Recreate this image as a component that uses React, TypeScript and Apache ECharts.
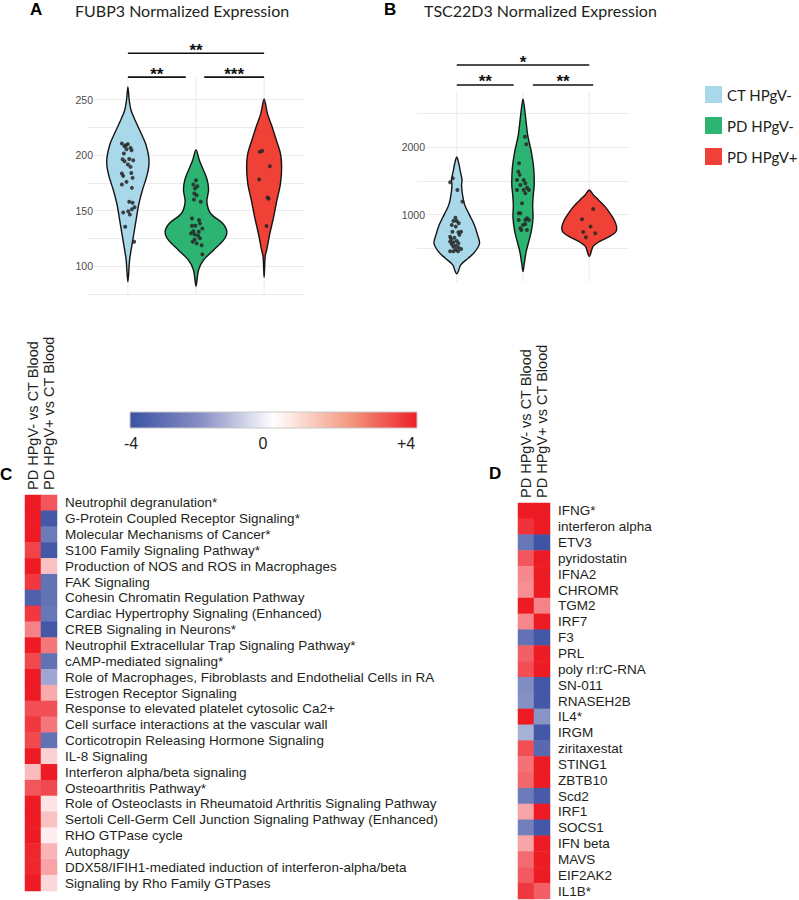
import React, { useEffect, useRef } from 'react';
import * as echarts from 'echarts';

// ---------- Violin panels (A: FUBP3, B: TSC22D3) ----------
const groups = ['CT HPgV-', 'PD HPgV-', 'PD HPgV+'];
const groupColors = ['#a9d8ea', '#2db473', '#ef4136'];

// Violin outlines: [expression value, half width in category units]
const fubp3CT = [[261.4, 0], [249.5, 0.02], [240.5, 0.047], [231.5, 0.106], [219.5, 0.196], [210.5, 0.26], [198.5, 0.306], [189.5, 0.306], [180.5, 0.275], [168.5, 0.213], [156.5, 0.162], [144.5, 0.128], [129.5, 0.088], [114.5, 0.047], [105.5, 0.025], [86, 0]];
const fubp3PDneg = [[205, 0], [195.5, 0.049], [186.5, 0.11], [177.5, 0.165], [168.5, 0.184], [158, 0.16], [147.5, 0.215], [138.5, 0.393], [131, 0.453], [123.5, 0.404], [114.5, 0.257], [105.5, 0.11], [96.5, 0.037], [82, 0]];
const fubp3PDpos = [[250.6, 0], [237.5, 0.049], [225.5, 0.118], [213.5, 0.18], [201.5, 0.24], [189.5, 0.257], [174.5, 0.24], [159.5, 0.188], [144.5, 0.14], [129.5, 0.084], [114.5, 0.037], [108.5, 0.015], [90, 0]];

// Individual samples: [jitter in category units, expression value]
const fubp3CTPts = [[-0.088, 210.5], [-0.029, 209], [0, 210], [0.039, 206.6], [0.054, 204.5], [-0.02, 205.4], [-0.059, 201.5], [-0.078, 196.4], [-0.049, 194.6], [0.078, 195.5], [0, 191.6], [0.039, 189.5], [-0.088, 183.5], [-0.069, 181.4], [0.069, 179.6], [-0.02, 176], [-0.088, 173.6], [0.059, 170.6], [0.02, 158], [0.069, 157.1], [0.098, 153.2], [0.059, 151.4], [0.005, 149.6], [-0.069, 148.4], [0.029, 146.7], [-0.039, 135.5], [0.093, 122], [-0.05, 208], [0.02, 196.5], [0.05, 184]];
const fubp3PDnegPts = [[0, 177.5], [-0.039, 173.6], [-0.015, 170], [-0.025, 165.6], [0.01, 164], [-0.03, 160.2], [0.069, 158], [-0.059, 143], [0.044, 141.6], [0.059, 138.6], [-0.059, 136.4], [-0.01, 136.4], [0.093, 134], [-0.074, 129.6], [-0.02, 128.7], [0.03, 127.5], [0.059, 125.1], [-0.049, 122], [0.01, 120.6], [0.083, 119], [0.093, 110.7], [0.02, 172], [-0.04, 131.5], [0.04, 131], [-0.02, 124]];
const fubp3PDposPts = [[-0.063, 203], [-0.029, 203.9], [0.084, 190.1], [-0.073, 178.1], [0.05, 162], [0.065, 160.7], [0.035, 136.2]];

// Significance brackets: [from category, to category, height], and their labels
const fubp3Sig = [[0, 2, 291.8], [0, 0.85, 270.3], [1.12, 2, 270.3]];
const fubp3SigLabels = ['**', '**', '***'];

const tscCT = [[1855, 0], [1740, 0.035], [1660, 0.05], [1515, 0.08], [1440, 0.072], [1290, 0.088], [1145, 0.12], [1000, 0.19], [850, 0.264], [700, 0.314], [575, 0.344], [450, 0.276], [355, 0.176], [255, 0.06], [155, 0.023], [120, 0]];
const tscPDneg = [[2717, 0], [2480, 0.035], [2180, 0.071], [1935, 0.125], [1690, 0.161], [1440, 0.169], [1290, 0.155], [1145, 0.146], [950, 0.151], [750, 0.125], [600, 0.087], [450, 0.048], [300, 0.023], [154, 0]];
const tscPDpos = [[1366, 0], [1292, 0.063], [1218, 0.139], [1119, 0.238], [1020, 0.314], [921, 0.377], [822, 0.412], [748, 0.403], [674, 0.302], [599, 0.151], [525, 0.056], [377, 0]];

const tscCTPts = [[-0.1, 1481], [-0.06, 1540], [0.01, 1366], [0.085, 1193], [-0.02, 955], [-0.05, 906], [0, 906], [0.03, 872], [-0.075, 847], [-0.015, 822], [-0.065, 747], [0.065, 747], [0.025, 738], [-0.1, 673], [-0.035, 658], [-0.085, 639], [0, 609], [-0.1, 599], [-0.05, 589], [0.025, 574], [-0.075, 559], [-0.015, 539], [-0.05, 524], [0.025, 514], [0.065, 490], [-0.1, 455], [-0.015, 480], [-0.05, 455], [0.02, 455], [0.04, 700]];
const tscPDnegPts = [[0.03, 2157], [0.05, 2044], [-0.06, 1763], [-0.07, 1638], [-0.05, 1590], [-0.09, 1515], [0.01, 1515], [0.035, 1466], [-0.04, 1441], [-0.09, 1366], [0.01, 1366], [0.09, 1366], [0.035, 1317], [0.06, 1400], [-0.015, 1169], [-0.065, 1021], [-0.04, 1021], [0.06, 946], [0.035, 921], [0.09, 921], [-0.065, 921], [0, 847], [-0.04, 798], [-0.025, 773], [0.035, 860], [0.06, 773]];
const tscPDposPts = [[0.06, 1084], [-0.11, 932], [0.02, 822], [-0.09, 743], [0.09, 724], [-0.05, 664]];

const tscSig = [[0, 2, 3220], [0, 0.86, 2925], [1.15, 2.06, 2925]];
const tscSigLabels = ['*', '**', '**'];

// ---------- Heatmaps (C: pathways, D: upstream regulators) ----------
const contrasts = ['PD HPgV- vs CT Blood', 'PD HPgV+ vs CT Blood'];

const pathways = [
  'Neutrophil degranulation*',
  'G-Protein Coupled Receptor Signaling*',
  'Molecular Mechanisms of Cancer*',
  'S100 Family Signaling Pathway*',
  'Production of NOS and ROS in Macrophages',
  'FAK Signaling',
  'Cohesin Chromatin Regulation Pathway',
  'Cardiac Hypertrophy Signaling (Enhanced)',
  'CREB Signaling in Neurons*',
  'Neutrophil Extracellular Trap Signaling Pathway*',
  'cAMP-mediated signaling*',
  'Role of Macrophages, Fibroblasts and Endothelial Cells in RA',
  'Estrogen Receptor Signaling',
  'Response to elevated platelet cytosolic Ca2+',
  'Cell surface interactions at the vascular wall',
  'Corticotropin Releasing Hormone Signaling',
  'IL-8 Signaling',
  'Interferon alpha/beta signaling',
  'Osteoarthritis Pathway*',
  'Role of Osteoclasts in Rheumatoid Arthritis Signaling Pathway',
  'Sertoli Cell-Germ Cell Junction Signaling Pathway (Enhanced)',
  'RHO GTPase cycle',
  'Autophagy',
  'DDX58/IFIH1-mediated induction of interferon-alpha/beta',
  'Signaling by Rho Family GTPases',
];
const pathwayPDneg = [4, 4, 4, 3.3, 4, 3.5, -3.6, 3.5, 2.2, 4, 3.2, 4, 4, 3.1, 3.5, 3.2, 4, 1.2, 3, 4, 4, 4, 3.8, 3.8, 4];
const pathwayPDpos = [3, -3.8, -3, -3.8, 1.1, -3.2, -3.2, -3.1, -3.8, 2.4, -3.2, -2, 1.5, 3.1, 2.4, -3.2, 0.8, 4, 3.2, 0.5, 1.1, 0.3, 1.3, 1.6, 0.7];

const regulators = [
  'IFNG*', 'interferon alpha', 'ETV3', 'pyridostatin', 'IFNA2', 'CHROMR', 'TGM2', 'IRF7', 'F3', 'PRL',
  'poly rI:rC-RNA', 'SN-011', 'RNASEH2B', 'IL4*', 'IRGM', 'ziritaxestat', 'STING1', 'ZBTB10', 'Scd2',
  'IRF1', 'SOCS1', 'IFN beta', 'MAVS', 'EIF2AK2', 'IL1B*',
];
const regulatorPDneg = [4, 3.6, -3.1, 3, 2.1, 2, 4, 2.1, -3.2, 2.8, 3.1, -2.6, -2.5, 4, -1.8, 3.1, 2.5, 2.7, -3, 1.6, -2.9, 1.6, 2.6, 2.9, 3.5];
const regulatorPDpos = [4, 4, -3.9, 4, 4, 4, 2.2, 4, -3.8, 4, 4, -3.8, -3.8, -2.4, -3.8, -3.4, 4, 4, -3.7, 4, -3.8, 4, 4, 4, 2.8];

const zScaleTicks = ['-4', '0', '+4'];

const SANS = '"Liberation Sans", Arial, sans-serif';
const HUMANIST = 'Lato, "Open Sans", sans-serif';

function violinSeries(profile: number[][], idx: number, axis: number) {
  return {
    type: 'custom',
    name: groups[idx],
    xAxisIndex: axis,
    yAxisIndex: axis,
    clip: false,
    silent: true,
    itemStyle: { color: groupColors[idx] },
    data: [[idx, profile[0][0]]],
    z: 2,
    renderItem: (params: any, api: any) => {
      const cat = api.value(0);
      const cs = params.coordSys;
      const center = api.coord([cat, profile[0][0]]);
      const right = profile.map(([v, w]) => api.coord([cat + w, v]));
      const left = profile.slice(1, -1).reverse().map(([v, w]) => api.coord([cat - w, v]));
      return {
        type: 'group',
        children: [
          {
            type: 'line',
            shape: { x1: center[0], y1: cs.y, x2: center[0], y2: cs.y + cs.height },
            style: { stroke: '#ebebeb', lineWidth: 1 },
            z2: 0,
          },
          {
            type: 'polygon',
            shape: { points: right.concat(left), smooth: 0.3 },
            style: { fill: groupColors[idx], stroke: '#141414', lineWidth: 1.4, lineJoin: 'round' },
            z2: 1,
          },
        ],
      };
    },
  };
}

function pointSeries(ptsList: number[][][], axis: number) {
  const data: number[][] = [];
  ptsList.forEach((pts, g) => pts.forEach(([j, v]) => data.push([g + j, v])));
  return {
    type: 'scatter',
    name: 'samples' + axis,
    xAxisIndex: axis,
    yAxisIndex: axis,
    silent: true,
    symbolSize: 4,
    itemStyle: { color: '#262626', opacity: 0.85 },
    data,
    z: 3,
  };
}

function sigSeries(sig: number[][], labels: string[], axis: number) {
  return {
    type: 'custom',
    name: 'sig' + axis,
    xAxisIndex: axis,
    yAxisIndex: axis,
    clip: false,
    silent: true,
    data: sig,
    z: 4,
    renderItem: (params: any, api: any) => {
      const p1 = api.coord([api.value(0), api.value(2)]);
      const p2 = api.coord([api.value(1), api.value(2)]);
      return {
        type: 'group',
        children: [
          {
            type: 'line',
            shape: { x1: p1[0], y1: p1[1], x2: p2[0], y2: p2[1] },
            style: { stroke: '#111', lineWidth: 1.6 },
          },
          {
            type: 'text',
            x: (p1[0] + p2[0]) / 2,
            y: p1[1] - 3,
            style: {
              text: labels[params.dataIndex],
              fontSize: 17,
              fontWeight: 'bold',
              fontFamily: SANS,
              fill: '#111',
              align: 'center',
              verticalAlign: 'middle',
            },
          },
        ],
      };
    },
  };
}

function heatData(a: number[], b: number[]) {
  const out: number[][] = [];
  a.forEach((v, i) => {
    out.push([0, i, v]);
    out.push([1, i, b[i]]);
  });
  return out;
}

export default function App() {
  const ref = useRef<HTMLDivElement>(null);

  useEffect(() => {
    document.body.style.margin = '0';
    if (!ref.current) return;
    const chart = echarts.init(ref.current, undefined, { renderer: 'svg' });

    const valueX = (gridIndex: number) => ({
      gridIndex,
      type: 'value',
      min: -0.6,
      max: 2.6,
      show: false,
      splitLine: { show: false },
    });

    const contrastAxis = (gridIndex: number) => ({
      gridIndex, type: 'category', data: contrasts, position: 'top',
      axisLine: { show: false }, axisTick: { show: false }, splitLine: { show: false },
      axisLabel: { rotate: -90, interval: 0, margin: 5, fontSize: 14.5, color: '#231f20', fontFamily: SANS },
    });

    const option: any = {
      animation: false,
      backgroundColor: '#ffffff',
      grid: [
        { left: 87, top: 77.5, width: 218, height: 216.5 },
        { left: 417, top: 92, width: 212, height: 190 },
        { left: 25, top: 495, width: 32, height: 396 },
        { left: 518, top: 503, width: 32, height: 396 },
      ],
      xAxis: [valueX(0), valueX(1), contrastAxis(2), contrastAxis(3)],
      yAxis: [
        {
          gridIndex: 0, type: 'value', min: 75, max: 270, interval: 25,
          axisLine: { show: false }, axisTick: { show: false },
          axisLabel: {
            formatter: (v: number) => (v % 50 === 0 ? String(v) : ''),
            fontSize: 10.5, color: '#4d4d4d', margin: -7, fontFamily: SANS,
            backgroundColor: '#ffffff', padding: [0, 1, 0, 1],
          },
          splitLine: { show: true, showMaxLine: false, lineStyle: { color: '#ebebeb', width: 1 } },
        },
        {
          gridIndex: 1, type: 'value', min: 0, max: 2820, interval: 500,
          axisLine: { show: false }, axisTick: { show: false },
          axisLabel: {
            formatter: (v: number) => (v > 0 && v % 1000 === 0 ? String(v) : ''),
            fontSize: 10.5, color: '#4d4d4d', margin: -9, fontFamily: SANS,
            backgroundColor: '#ffffff', padding: [0, 1, 0, 1],
          },
          splitLine: { show: true, showMinLine: false, showMaxLine: false, lineStyle: { color: '#ebebeb', width: 1 } },
        },
        {
          gridIndex: 2, type: 'category', data: pathways, inverse: true, position: 'right',
          axisLine: { show: false }, axisTick: { show: false }, splitLine: { show: false },
          axisLabel: { interval: 0, margin: 8, fontSize: 13.5, color: '#231f20', fontFamily: SANS },
        },
        {
          gridIndex: 3, type: 'category', data: regulators, inverse: true, position: 'right',
          axisLine: { show: false }, axisTick: { show: false }, splitLine: { show: false },
          axisLabel: { interval: 0, margin: 8, fontSize: 13.5, color: '#231f20', fontFamily: SANS },
        },
      ],
      legend: {
        data: groups,
        orient: 'vertical',
        left: 700,
        top: 81,
        itemWidth: 17,
        itemHeight: 17,
        itemGap: 14,
        icon: 'rect',
        selectedMode: false,
        textStyle: { fontSize: 15, color: '#231f20', fontFamily: HUMANIST, lineHeight: 17 },
      },
      visualMap: {
        type: 'continuous',
        show: false,
        min: -4,
        max: 4,
        seriesIndex: [10, 11],
        inRange: { color: ['#3b4fa2', '#ffffff', '#ed1c24'] },
      },
      series: [
        violinSeries(fubp3CT, 0, 0),
        violinSeries(fubp3PDneg, 1, 0),
        violinSeries(fubp3PDpos, 2, 0),
        pointSeries([fubp3CTPts, fubp3PDnegPts, fubp3PDposPts], 0),
        sigSeries(fubp3Sig, fubp3SigLabels, 0),
        violinSeries(tscCT, 0, 1),
        violinSeries(tscPDneg, 1, 1),
        violinSeries(tscPDpos, 2, 1),
        pointSeries([tscCTPts, tscPDnegPts, tscPDposPts], 1),
        sigSeries(tscSig, tscSigLabels, 1),
        {
          type: 'heatmap', name: 'pathways', xAxisIndex: 2, yAxisIndex: 2, silent: true,
          data: heatData(pathwayPDneg, pathwayPDpos), itemStyle: { borderWidth: 0 },
        },
        {
          type: 'heatmap', name: 'regulators', xAxisIndex: 3, yAxisIndex: 3, silent: true,
          data: heatData(regulatorPDneg, regulatorPDpos), itemStyle: { borderWidth: 0 },
        },
      ],
      graphic: [
        { type: 'text', x: 30, y: 9, style: { text: 'A', font: 'bold 17px ' + SANS, fill: '#000', verticalAlign: 'middle' } },
        { type: 'text', x: 75, y: 10, style: { text: 'FUBP3 Normalized Expression', font: '16px ' + HUMANIST, fill: '#231f20', verticalAlign: 'middle' } },
        { type: 'text', x: 384, y: 9, style: { text: 'B', font: 'bold 17px ' + SANS, fill: '#000', verticalAlign: 'middle' } },
        { type: 'text', x: 424, y: 10, style: { text: 'TSC22D3 Normalized Expression', font: '16px ' + HUMANIST, fill: '#231f20', verticalAlign: 'middle' } },
        { type: 'text', x: 0, y: 474, style: { text: 'C', font: 'bold 17px ' + SANS, fill: '#000', verticalAlign: 'middle' } },
        { type: 'text', x: 489, y: 473, style: { text: 'D', font: 'bold 17px ' + SANS, fill: '#000', verticalAlign: 'middle' } },
        {
          type: 'rect',
          shape: { x: 130, y: 412, width: 287, height: 16 },
          style: {
            fill: {
              type: 'linear', x: 0, y: 0, x2: 1, y2: 0,
              colorStops: [
                { offset: 0, color: '#3953a4' },
                { offset: 0.25, color: '#8a8fc4' },
                { offset: 0.5, color: '#ffffff' },
                { offset: 0.75, color: '#f4a088' },
                { offset: 1, color: '#ec2027' },
              ],
            },
            stroke: '#c8c8c8',
            lineWidth: 1,
          },
        },
        { type: 'text', x: 131, y: 443, style: { text: zScaleTicks[0], font: '16px ' + SANS, fill: '#231f20', align: 'center', verticalAlign: 'middle' } },
        { type: 'text', x: 263, y: 443, style: { text: zScaleTicks[1], font: '16px ' + SANS, fill: '#231f20', align: 'center', verticalAlign: 'middle' } },
        { type: 'text', x: 406, y: 443, style: { text: zScaleTicks[2], font: '16px ' + SANS, fill: '#231f20', align: 'center', verticalAlign: 'middle' } },
      ],
    };

    chart.setOption(option);
    return () => chart.dispose();
  }, []);

  return (
    <div
      ref={ref}
      style={{ position: 'absolute', left: 0, top: 0, width: 799, height: 900, background: '#fff' }}
    />
  );
}
